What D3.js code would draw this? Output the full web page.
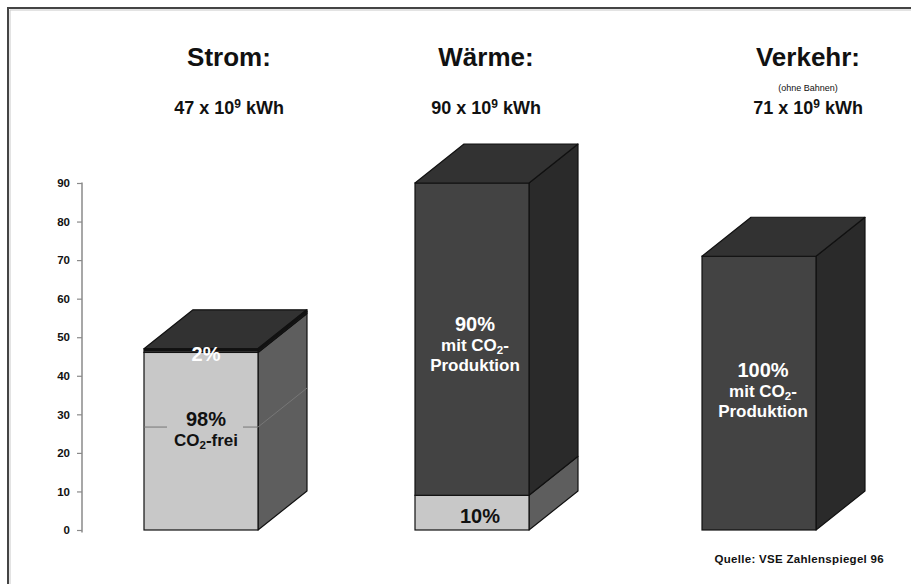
<!DOCTYPE html>
<html>
<head>
<meta charset="utf-8">
<script src="https://cdn.jsdelivr.net/npm/d3@7"></script>
<style>
  body { margin: 0; background: #fff; }
  svg { display: block; font-family: "Liberation Sans", Arial, Helvetica, sans-serif; }
</style>
</head>
<body>
<svg id="chart" width="911" height="584"></svg>
<script>
// Endenergie nach Sektoren (10^9 kWh) und Anteil CO2-frei / mit CO2-Produktion
const categories = ["Strom", "Wärme", "Verkehr"];
const subtitles = ["", "", "(ohne Bahnen)"];
const totals = [47, 90, 71];
const shareFree = [98, 10, 0];      // % CO2-frei (unteres, helles Segment)
const shareCO2 = [2, 90, 100];      // % mit CO2-Produktion (oberes, dunkles Segment)
const yTicks = [0, 10, 20, 30, 40, 50, 60, 70, 80, 90];
const stromDivider = 26.7;          // Trennlinie im Strom-Block
const source = "Quelle: VSE Zahlenspiegel 96";

// Beschriftungen in den Segmenten
const labelsFree = [["98%", "CO|2|-frei"], ["10%"], []];
const labelsCO2 = [["2%"], ["90%", "mit CO|2|-", "Produktion"], ["100%", "mit CO|2|-", "Produktion"]];

// ---- layout ----
const svg = d3.select("#chart");
const depth = { dx: 49, dy: -39 };
const barW = 114;
const colors = {
  free: { front: "#c8c8c8", side: "#5e5e5e", top: "#9a9a9a" },
  co2:  { front: "#434343", side: "#2a2a2a", top: "#323232" }
};

const y = d3.scaleLinear().domain([0, 90]).range([530, 183]);
const xBar = d3.scaleOrdinal().domain(categories).range([144, 415, 702]);
const xTitle = d3.scaleOrdinal().domain(categories).range([229, 486, 808]);
// vertical nudges of the label blocks (px)
const offFree = d3.scaleOrdinal().domain(categories).range([-12, 3, 0]);
const offCO2 = d3.scaleOrdinal().domain(categories).range([4, 5, -3]);
const dxLabel = d3.scaleOrdinal().domain(categories).range([5, 3, 4]);
const dxLabelFree = d3.scaleOrdinal().domain(categories).range([5, 8, 0]);

// frame
svg.append("path")
  .attr("d", "M8,590 V8 H920")
  .attr("fill", "none").attr("stroke", "#444").attr("stroke-width", 2);
svg.append("path")
  .attr("d", "M10,590 V10 H920")
  .attr("fill", "none").attr("stroke", "#c8c8c8").attr("stroke-width", 1);

// y axis
const yAxis = d3.axisLeft(y).tickValues(yTicks).tickSize(5).tickPadding(7);
const gy = svg.append("g").attr("transform", "translate(82,0)").call(yAxis);
gy.select(".domain").attr("d", "M0,182.5V532.5").attr("stroke", "#8a8a8a").attr("stroke-width", 1.5);
gy.selectAll(".tick line").attr("stroke", "#8a8a8a").attr("stroke-width", 1.2);
gy.selectAll(".tick text")
  .attr("font-family", "'Liberation Sans', Arial, sans-serif")
  .attr("font-size", 11.5).attr("font-weight", "bold").attr("fill", "#111");

// rich text helper: "CO|2|-frei" -> subscript for the middle part
function richText(sel, str, size) {
  const parts = str.split("|");
  parts.forEach((p, i) => {
    const t = sel.append("tspan").text(p);
    if (i % 2 === 1) {
      t.attr("font-size", size * 0.68).attr("dy", size * 0.18);
    } else if (i > 0) {
      t.attr("dy", -size * 0.18);
    }
  });
}

function drawBlock(g, x0, v0, v1, col) {
  const yb = y(v0), yt = y(v1), x1 = x0 + barW;
  const { dx, dy } = depth;
  // side
  g.append("path")
    .attr("d", `M${x1},${yb} L${x1 + dx},${yb + dy} L${x1 + dx},${yt + dy} L${x1},${yt} Z`)
    .attr("fill", col.side).attr("stroke", "#111").attr("stroke-width", 1.2).attr("stroke-linejoin", "round");
  // front
  g.append("rect")
    .attr("x", x0).attr("y", yt).attr("width", barW).attr("height", yb - yt)
    .attr("fill", col.front).attr("stroke", "#111").attr("stroke-width", 1.2);
}
function drawTop(g, x0, v, col) {
  const yt = y(v), x1 = x0 + barW;
  const { dx, dy } = depth;
  g.append("path")
    .attr("d", `M${x0},${yt} L${x0 + dx},${yt + dy} L${x1 + dx},${yt + dy} L${x1},${yt} Z`)
    .attr("fill", col.top).attr("stroke", "#111").attr("stroke-width", 1.2).attr("stroke-linejoin", "round");
}

function drawLabel(g, lines, cx, cy, fill) {
  if (!lines.length) return;
  const big = 20, small = 17, gap = 20;
  const blockH = big * 0.72 + (lines.length - 1) * gap;
  let base = cy - blockH / 2 + big * 0.72;
  lines.forEach((ln, i) => {
    const size = i === 0 ? big : small;
    const t = g.append("text")
      .attr("x", cx).attr("y", base + (i === 0 ? 0 : (i) * gap))
      .attr("text-anchor", "middle").attr("font-weight", "bold")
      .attr("font-size", size).attr("fill", fill);
    richText(t, ln, size);
  });
}

categories.forEach((cat, i) => {
  const g = svg.append("g");
  const x0 = xBar(cat);
  const vFree = totals[i] * shareFree[i] / 100;
  const vTot = totals[i];
  const cx = x0 + barW / 2;

  if (vFree > 0) drawBlock(g, x0, 0, vFree, colors.free);
  if (vTot > vFree) drawBlock(g, x0, vFree, vTot, colors.co2);
  drawTop(g, x0, vTot, shareCO2[i] > 0 ? colors.co2 : colors.free);

  // divider line inside the Strom block
  if (cat === "Strom") {
    const yl = y(stromDivider);
    const gapHalf = 38;
    g.append("path")
      .attr("d", `M${x0},${yl} H${cx + 4 - gapHalf} M${cx + 4 + gapHalf},${yl} H${x0 + barW} L${x0 + barW + depth.dx},${yl + depth.dy}`)
      .attr("fill", "none").attr("stroke", "#777").attr("stroke-width", 1);
    // heavy top edge
    g.append("line")
      .attr("x1", x0).attr("x2", x0 + barW).attr("y1", y(vTot) + 1).attr("y2", y(vTot) + 1)
      .attr("stroke", "#111").attr("stroke-width", 3);
    g.append("line")
      .attr("x1", x0 + barW).attr("x2", x0 + barW + depth.dx)
      .attr("y1", y(vTot) + 1).attr("y2", y(vTot) + 1 + depth.dy)
      .attr("stroke", "#111").attr("stroke-width", 3);
  }

  // labels
  if (vFree > 0) {
    const cy = (y(0) + y(vFree)) / 2 + offFree(cat);
    drawLabel(g, labelsFree[i], cx + dxLabelFree(cat), cy, "#111");
  }
  if (vTot > vFree) {
    const segH = y(vFree) - y(vTot);
    let cy = (y(vFree) + y(vTot)) / 2 + offCO2(cat);
    if (segH < 20) cy = y(vTot) + offCO2(cat) + 1;
    drawLabel(g, labelsCO2[i], cx + dxLabel(cat), cy, "#fff");
  }

  // titles
  const tx = xTitle(cat);
  svg.append("text").attr("x", tx).attr("y", 66)
    .attr("text-anchor", "middle").attr("font-weight", "bold").attr("font-size", 26).attr("fill", "#111")
    .text(cat + ":");
  if (subtitles[i]) {
    svg.append("text").attr("x", tx).attr("y", 91)
      .attr("text-anchor", "middle").attr("font-size", 9).attr("fill", "#111")
      .text(subtitles[i]);
  }
  const vt = svg.append("text").attr("x", tx).attr("y", 114)
    .attr("text-anchor", "middle").attr("font-weight", "bold").attr("font-size", 18).attr("fill", "#111");
  vt.append("tspan").text(totals[i] + " x 10");
  vt.append("tspan").text("9").attr("font-size", 12).attr("dy", -6);
  vt.append("tspan").text(" kWh").attr("dy", 6);
});

svg.append("text").attr("x", 884).attr("y", 563)
  .attr("text-anchor", "end").attr("font-weight", "bold").attr("font-size", 11.5)
  .attr("letter-spacing", 0.3).attr("fill", "#111")
  .text(source);
</script>
</body>
</html>
